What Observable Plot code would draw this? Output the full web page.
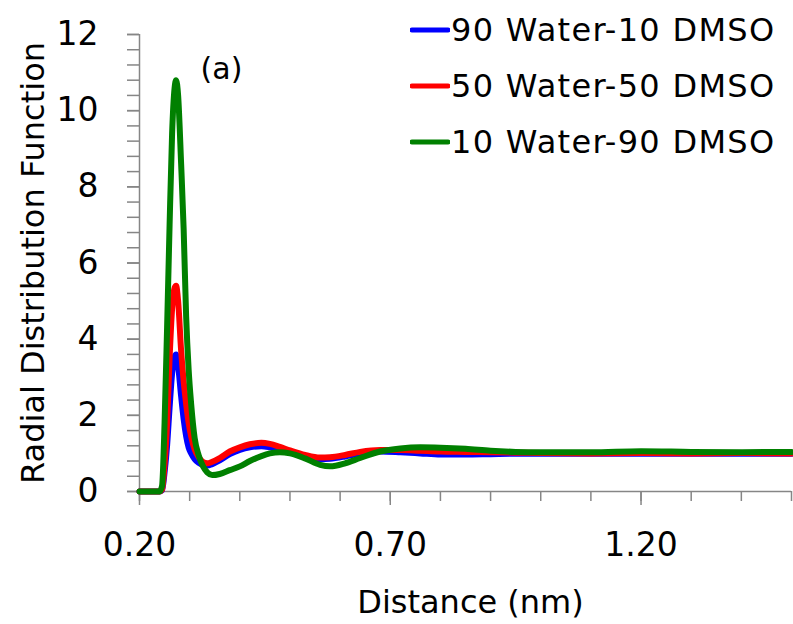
<!DOCTYPE html>
<html>
<head>
<meta charset="utf-8">
<script src="https://cdn.jsdelivr.net/npm/d3@7"></script>
<script src="https://cdn.jsdelivr.net/npm/@observablehq/plot@0.6"></script>
<style>
  html, body { margin: 0; padding: 0; background: #fff; }
  #wrap { position: relative; width: 793px; height: 624px; font-family: "DejaVu Sans", sans-serif; }
  #legend { position: absolute; left: 410px; top: 2px; }
  .row { display: flex; align-items: center; height: 56px; }
  .row span { font-size: 32px; letter-spacing: 1.3px; color: #000; margin-left: 1px; white-space: nowrap; }
</style>
</head>
<body>
<div id="wrap"><div id="legend"></div></div>
<script>
// distance grid (nm)
const distance = [0.200, 0.240, 0.245, 0.250, 0.255, 0.260, 0.265, 0.270, 0.273, 0.277,
  0.283, 0.288, 0.293, 0.298, 0.303, 0.310, 0.318, 0.327, 0.335, 0.345,
  0.360, 0.380, 0.400, 0.420, 0.443, 0.460, 0.480, 0.500, 0.530, 0.560,
  0.580, 0.610, 0.640, 0.680, 0.720, 0.760, 0.800, 0.850, 0.900, 0.950,
  1.000, 1.100, 1.200, 1.300, 1.400, 1.500];

const seriesNames = ["90 Water-10 DMSO", "50 Water-50 DMSO", "10 Water-90 DMSO"];
const seriesColors = ["#0000ff", "#ff0000", "#008000"];

const rdf90Water = [0, 0, 0.03, 0.5, 1.2, 2.2, 3.1, 3.55, 3.6, 3.3,
  2.5, 1.9, 1.45, 1.15, 1.0, 0.85, 0.75, 0.69, 0.68, 0.72,
  0.82, 0.98, 1.09, 1.16, 1.19, 1.16, 1.10, 1.02, 0.92, 0.85,
  0.86, 0.92, 1.0, 1.05, 1.03, 1.0, 0.97, 0.97, 0.98, 0.99,
  0.99, 0.99, 0.99, 0.99, 0.99, 0.99];

const rdf50Water = [0, 0, 0.05, 0.7, 1.8, 3.5, 4.8, 5.35, 5.4, 5.0,
  3.7, 2.9, 2.3, 1.8, 1.45, 1.1, 0.9, 0.77, 0.74, 0.78,
  0.88, 1.05, 1.16, 1.24, 1.28, 1.25, 1.17, 1.08, 0.96, 0.89,
  0.90, 0.96, 1.04, 1.09, 1.09, 1.07, 1.05, 1.04, 1.03, 1.02,
  1.01, 1.0, 1.01, 1.0, 1.01, 1.0];

const rdf10Water = [0, 0, 0.15, 1.8, 4.3, 7.0, 9.4, 10.6, 10.8, 10.4,
  8.6, 6.9, 4.6, 3.2, 2.3, 1.4, 0.95, 0.65, 0.5, 0.43,
  0.46, 0.56, 0.66, 0.80, 0.93, 1.0, 1.03, 1.0, 0.87, 0.70,
  0.66, 0.74, 0.88, 1.05, 1.13, 1.16, 1.15, 1.12, 1.07, 1.04,
  1.03, 1.03, 1.06, 1.04, 1.03, 1.04];

const xTicks = [0.2, 0.7, 1.2];
const xMinorTicks = [0.2, 0.3, 0.4, 0.5, 0.6, 0.7, 0.8, 0.9, 1.0, 1.1, 1.2, 1.3, 1.4, 1.5];
const yTicks = [0, 2, 4, 6, 8, 10, 12];
const yMinorTicks = [0, 0.4, 0.8, 1.2, 1.6, 2, 2.4, 2.8, 3.2, 3.6, 4, 4.4, 4.8, 5.2, 5.6, 6,
  6.4, 6.8, 7.2, 7.6, 8, 8.4, 8.8, 9.2, 9.6, 10, 10.4, 10.8, 11.2, 11.6, 12];

const allSeries = [rdf90Water, rdf50Water, rdf10Water];
const rows = [];
allSeries.forEach((vals, i) => {
  vals.forEach((v, j) => rows.push({series: seriesNames[i], r: distance[j], g: v}));
});

const axisGrey = "#868686";

const chart = Plot.plot({
  width: 793,
  height: 624,
  marginLeft: 139,
  marginRight: 2,
  marginTop: 34,
  marginBottom: 133,
  x: {domain: [0.2, 1.5]},
  y: {domain: [0, 12]},
  color: {domain: seriesNames, range: seriesColors},
  style: {fontFamily: "DejaVu Sans", background: "white", color: "black"},
  marks: [
    Plot.axisX(xMinorTicks, {tickSize: 10, tickFormat: () => "", stroke: axisGrey, strokeWidth: 1.5, label: null}),
    Plot.axisX(xTicks, {tickSize: 14, tickPadding: 27, tickFormat: d3.format(".2f"), fontSize: 33, stroke: axisGrey, strokeWidth: 1.5, fill: "black", label: null}),
    Plot.axisY(yMinorTicks, {tickSize: 12, tickFormat: () => "", stroke: axisGrey, strokeWidth: 1.5, label: null}),
    Plot.axisY(yTicks, {tickSize: 12, tickPadding: 29, fontSize: 33, stroke: axisGrey, strokeWidth: 1.5, fill: "black", label: null}),
    Plot.ruleY([0], {stroke: axisGrey, strokeWidth: 1.5}),
    Plot.ruleX([0.2], {stroke: axisGrey, strokeWidth: 1.5}),
    Plot.line(rows, {x: "r", y: "g", z: "series", stroke: "series", strokeWidth: 6, curve: "monotone-x", strokeLinejoin: "round", strokeLinecap: "round"}),
    Plot.text(["Distance (nm)"], {frameAnchor: "bottom", dx: 5, dy: 111, fontSize: 32, lineAnchor: "middle", fill: "black"}),
    Plot.text(["Radial Distribution Function"], {frameAnchor: "left", rotate: -90, dx: -106, fontSize: 32, lineAnchor: "middle", textAnchor: "middle", fill: "black"}),
    Plot.text(["(a)"], {frameAnchor: "top-left", dx: 82, dy: 35, fontSize: 30, textAnchor: "middle", lineAnchor: "middle", fill: "black"})
  ]
});

const wrap = document.getElementById("wrap");
wrap.insertBefore(chart, wrap.firstChild);

const legend = document.getElementById("legend");
seriesNames.forEach((name, i) => {
  const row = document.createElement("div");
  row.className = "row";
  row.innerHTML = `<svg width="40" height="8"><line x1="2" y1="4" x2="38" y2="4" stroke="${seriesColors[i]}" stroke-width="5" stroke-linecap="round"/></svg><span>${name}</span>`;
  legend.appendChild(row);
});
</script>
</body>
</html>
